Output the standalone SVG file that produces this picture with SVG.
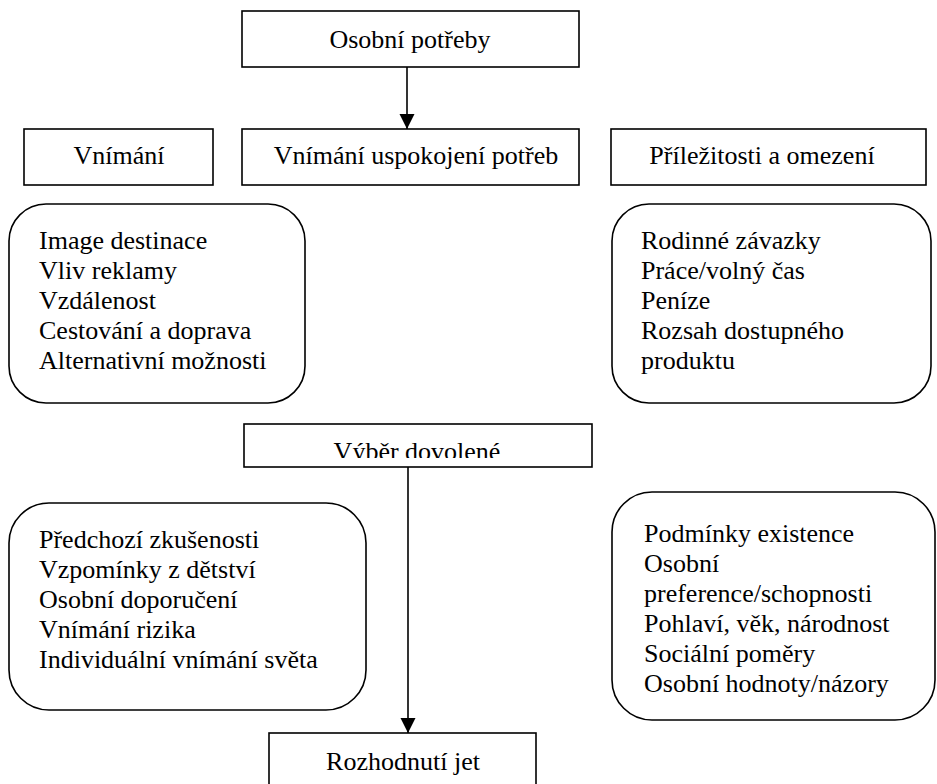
<svg xmlns="http://www.w3.org/2000/svg" width="937" height="784" viewBox="0 0 937 784">
<style>
.box{fill:#fff;stroke:#000;stroke-width:1.6}
.t{font-family:"Liberation Serif","Times New Roman",Tinos,"DejaVu Serif","Noto Serif",serif;font-size:26px;fill:#000}
.c{text-anchor:middle}
.edge{stroke:#000;stroke-width:1.6;fill:none}
</style>
<defs>
<marker id="ah" markerWidth="16" markerHeight="16" refX="15" refY="7.5" orient="auto" markerUnits="userSpaceOnUse">
<path d="M0,0 L15,7.5 L0,15 Z" fill="#000"/>
</marker>
<clipPath id="vclip"><rect x="244" y="424" width="348" height="34"/></clipPath>
</defs>
<rect width="937" height="784" fill="#fff"/>
<g id="connectors">
<line class="edge" x1="407" y1="67" x2="407" y2="129" marker-end="url(#ah)"/>
<line class="edge" x1="408" y1="467" x2="408" y2="733" marker-end="url(#ah)"/>
</g>
<g id="osobni-potreby">
<rect class="box" x="242" y="11" width="337" height="56"/>
<text class="t c" x="410" y="48" font-family="Liberation Serif, serif">Osobní potřeby</text>
</g>
<g id="vnimani">
<rect class="box" x="24" y="129" width="189" height="56"/>
<text class="t c" x="119" y="164">Vnímání</text>
</g>
<g id="vnimani-uspokojeni">
<rect class="box" x="242" y="129" width="337" height="56"/>
<text class="t c" x="416" y="164">Vnímání uspokojení potřeb</text>
</g>
<g id="prilezitosti">
<rect class="box" x="611" y="129" width="315" height="56"/>
<text class="t c" x="762" y="164">Příležitosti a omezení</text>
</g>
<g id="vnimani-list">
<rect class="box" x="9" y="204" width="296" height="199" rx="37" ry="37"/>
<text class="t" x="39" y="249">Image destinace</text>
<text class="t" x="39" y="279">Vliv reklamy</text>
<text class="t" x="39" y="309">Vzdálenost</text>
<text class="t" x="39" y="339">Cestování a doprava</text>
<text class="t" x="39" y="369">Alternativní možnosti</text>
</g>
<g id="prilezitosti-list">
<rect class="box" x="612" y="204" width="319" height="199" rx="37" ry="37"/>
<text class="t" x="641" y="249">Rodinné závazky</text>
<text class="t" x="641" y="279">Práce/volný čas</text>
<text class="t" x="641" y="309">Peníze</text>
<text class="t" x="641" y="339">Rozsah dostupného</text>
<text class="t" x="641" y="369">produktu</text>
</g>
<g id="vyber-dovolene">
<rect class="box" x="244" y="424" width="348" height="43"/>
<text class="t c" x="417" y="460" clip-path="url(#vclip)">Výběr dovolené</text>
</g>
<g id="zkusenosti-list">
<rect class="box" x="9" y="503" width="357" height="207" rx="40" ry="40"/>
<text class="t" x="39" y="548">Předchozí zkušenosti</text>
<text class="t" x="39" y="578">Vzpomínky z dětství</text>
<text class="t" x="39" y="608">Osobní doporučení</text>
<text class="t" x="39" y="638">Vnímání rizika</text>
<text class="t" x="39" y="668">Individuální vnímání světa</text>
</g>
<g id="podminky-list">
<rect class="box" x="612" y="492" width="323" height="228" rx="40" ry="40"/>
<text class="t" x="644" y="542">Podmínky existence</text>
<text class="t" x="644" y="572">Osobní</text>
<text class="t" x="644" y="602">preference/schopnosti</text>
<text class="t" x="644" y="632">Pohlaví, věk, národnost</text>
<text class="t" x="644" y="662">Sociální poměry</text>
<text class="t" x="644" y="692">Osobní hodnoty/názory</text>
</g>
<g id="rozhodnuti-jet">
<rect class="box" x="269" y="733" width="267" height="60"/>
<text class="t c" x="403" y="770">Rozhodnutí jet</text>
</g>
</svg>
